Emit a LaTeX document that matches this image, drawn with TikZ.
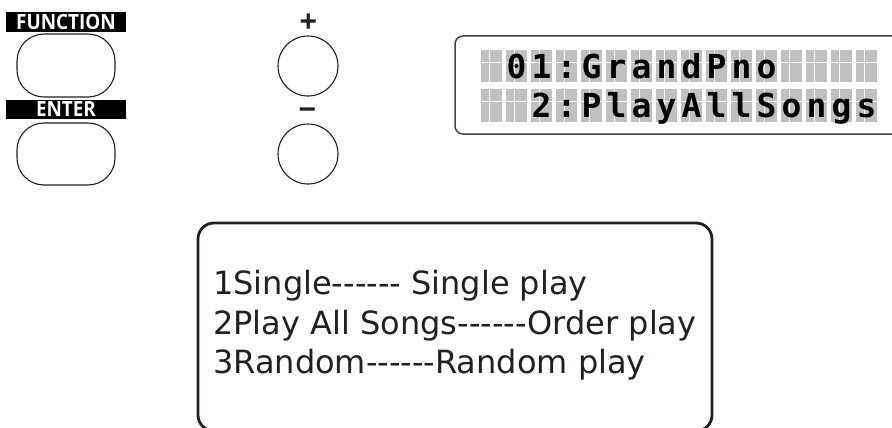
\documentclass[tikz,border=0pt]{standalone}
\usepackage{fontspec}
\setmainfont{DejaVu Sans}[Ligatures=TeXOff]
\newfontfamily\lcdfont{DejaVu Sans Mono}[Ligatures=TeXOff]
\newfontfamily\labfont{Open Sans}
\newfontfamily\signfont{Liberation Sans}
\usetikzlibrary{calc}
\definecolor{ink}{HTML}{231F20}
\definecolor{lcdgray}{HTML}{C0C0C0}
\tikzset{
  barlabel/.style={fill=black, text=white, minimum width=120pt, inner sep=0pt,
    font=\labfont\bfseries\fontsize{21}{21}\selectfont},
  keybtn/.style={draw=ink, line width=1.1pt, minimum width=98pt, minimum height=63pt,
    rounded corners=27pt, inner sep=0pt},
  roundbtn/.style={draw=ink, line width=1.1pt, circle, minimum size=60pt, inner sep=0pt},
  signlabel/.style={inner sep=0pt, text=ink, font=\signfont\bfseries\fontsize{30}{30}\selectfont},
  lcdframe/.style={draw=ink!85, line width=1.5pt, rounded corners=8pt},
  lcdcell/.style={fill=lcdgray, minimum width=21pt, inner sep=0pt},
  cellgrid/.style={white, line width=0.7pt},
  lcdchar/.style={anchor=base, inner sep=0pt, text=black, font=\lcdfont\bfseries\fontsize{33}{33}\selectfont},
  mainbox/.style={draw=ink, line width=2.8pt, rounded corners=16pt},
  mainline/.style={anchor=base west, inner sep=0pt, text=ink, font=\fontsize{32}{39}\selectfont}
}
\begin{document}
\begin{tikzpicture}[x=1pt,y=-1pt]
\useasboundingbox (0,0) rectangle (892,428);

% FUNCTION / ENTER keys
\node[barlabel, minimum height=20pt] (funclbl) at (66,22) {\scalebox{0.9}[1]{FUNCTION}};
\node[keybtn] (funcbtn) at (66,65.5) {};
\node[barlabel, minimum height=19pt] (entlbl) at (66,109.5) {\scalebox{0.9}[1]{ENTER}};
\node[keybtn, minimum height=62pt] (entbtn) at (66,154) {};

% + / - keys
\node[signlabel] (pluslbl) at (308.5,23) {+};
\node[roundbtn] (plusbtn) at (308,66) {};
\node[signlabel] (minuslbl) at (307.5,114) {\char"2212};
\node[roundbtn] (minusbtn) at (308,154) {};

% LCD
\draw[lcdframe] (910,36) -- (455,36) -- (455,134) -- (910,134);
\foreach \ch [count=\i from 0] in {{},0,1,:,G,r,a,n,d,P,n,o,{},{},{},{}} {
  \node[lcdcell, minimum height=32pt] (ra\i) at (491.5+25*\i,66) {};
  \draw[cellgrid] ($(ra\i.north west)+(9,0)$) -- ($(ra\i.south west)+(9,0)$);
  \draw[cellgrid] ($(ra\i.north west)+(0,13)$) -- ($(ra\i.north east)+(0,13)$);
  \node[lcdchar] (ta\i) at (491.5+25*\i,78.5) {\ch};
}
\foreach \ch [count=\i from 0] in {{},{},2,:,P,l,a,y,A,l,l,S,o,n,g,s} {
  \node[lcdcell, minimum height=33pt] (rb\i) at (491.5+25*\i,105.5) {};
  \draw[cellgrid] ($(rb\i.north west)+(9,0)$) -- ($(rb\i.south west)+(9,0)$);
  \draw[cellgrid] ($(rb\i.north west)+(0,13)$) -- ($(rb\i.north east)+(0,13)$);
  \node[lcdchar] (tb\i) at (491.5+25*\i,117.5) {\ch};
}

% main box
\draw[mainbox] (198,223) rectangle (712,431);
\node[mainline] (l1) at (213,294) {1Single------ Single play};
\node[mainline] (l2) at (213,334) {2Play All Songs------Order play};
\node[mainline] (l3) at (213,373) {3Random------Random play};
\end{tikzpicture}
\end{document}
